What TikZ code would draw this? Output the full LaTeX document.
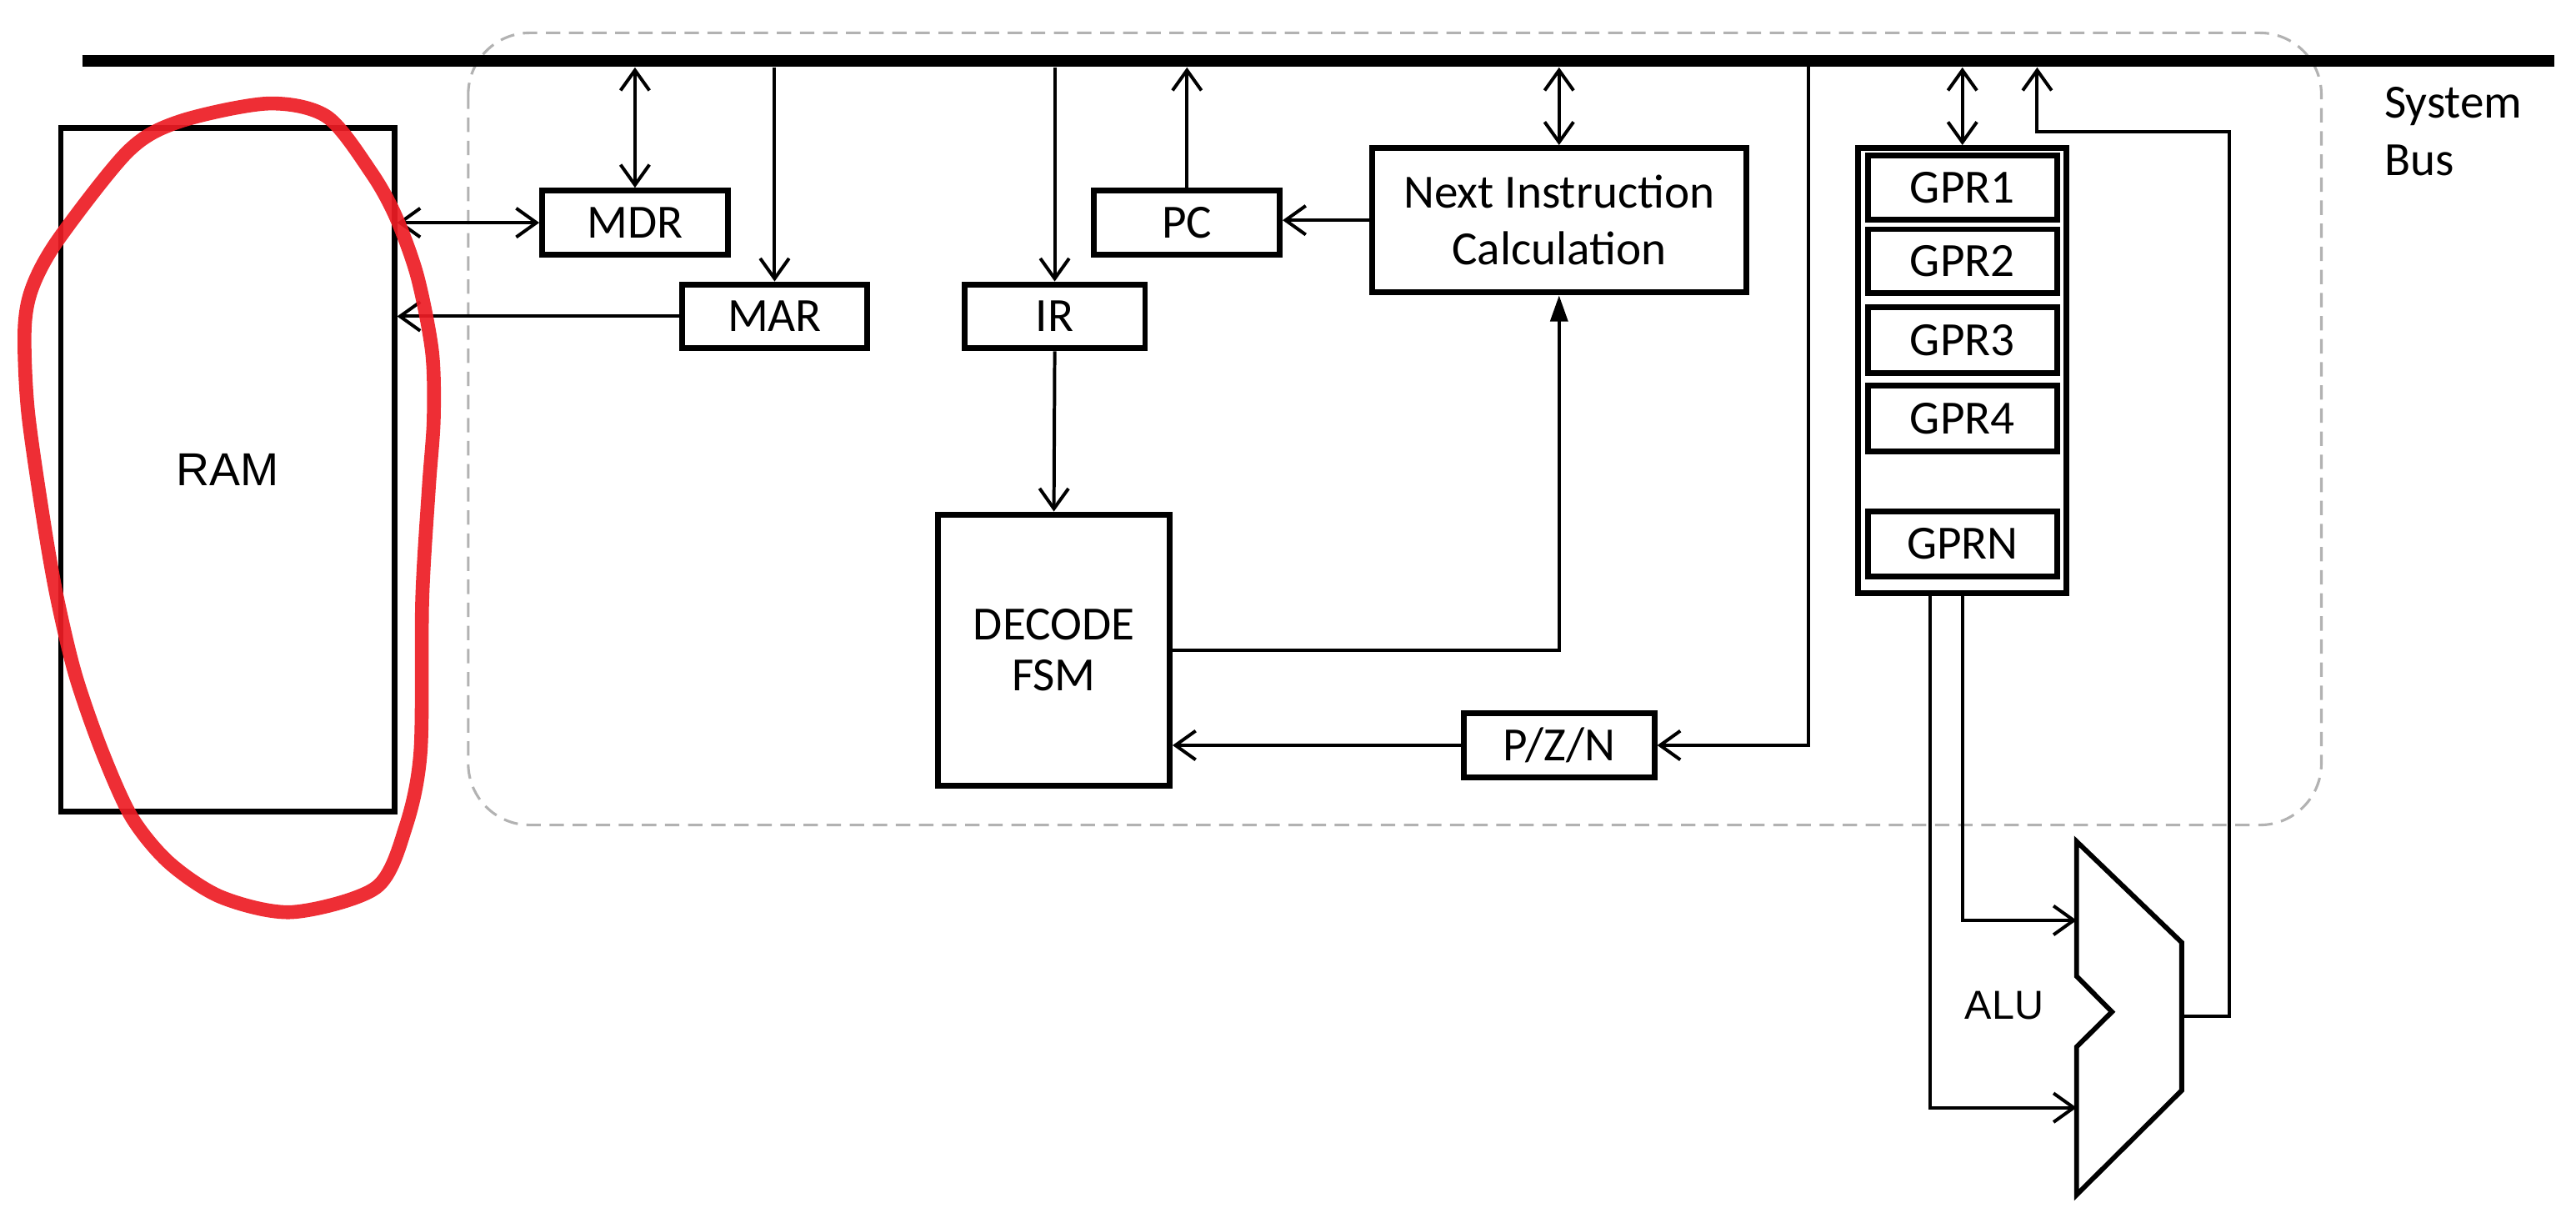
\documentclass[tikz,border=0pt]{standalone}
\usepackage{fontspec}
\setmainfont{Carlito}
\newfontfamily\ramfont{Liberation Sans}
\usetikzlibrary{arrows.meta,positioning}
\definecolor{penred}{RGB}{237,28,36}

\begin{document}
\begin{tikzpicture}[x=0.02cm, y=-0.02cm,
	reg/.style={draw, line width=2pt, inner sep=0pt, align=center, font=\fontsize{16.5}{19.5}\selectfont},
	wire/.style={line width=1.15pt},
	sig/.style={wire, -{Straight Barb[length=7pt,width=10pt]}},
	bidir/.style={wire, {Straight Barb[length=7pt,width=10pt]}-{Straight Barb[length=7pt,width=10pt]}},
	solidsig/.style={wire, -{Triangle[length=9pt,width=6pt]}},
	cpuframe/.style={draw=gray!60, line width=0.9pt, dash pattern=on 5pt off 3pt, rounded corners=0.75cm},
	marker/.style={draw=penred, line width=4.8pt, opacity=0.92, line join=round}]
	\tikzstyle{every node}+=[inner sep=0pt]
	\useasboundingbox (0,0) rectangle (1568,747);
	\draw [cpuframe] (285,20) rectangle (1413,502);
	\draw [line width=0.15cm] (50,37) -- (1555,37);
	\coordinate (bus) at (0,41);
	\node [anchor=west, align=left, font=\fontsize{16.5}{20}\selectfont] (sysbus) at (1451,80) {System\\Bus};
	\node [reg, minimum width=4.06cm, minimum height=8.32cm, font=\ramfont\fontsize{16}{19}\selectfont] (ram) at (138.5,286) {RAM};
	\node [reg, minimum width=2.26cm, minimum height=0.78cm] (mdr) at (386.5,135.5) {MDR};
	\node [reg, minimum width=2.26cm, minimum height=0.78cm] (mar) at (471.5,192.5) {MAR};
	\node [reg, minimum width=2.2cm, minimum height=0.78cm] (ir) at (642,192.5) {IR};
	\node [reg, minimum width=2.26cm, minimum height=0.78cm] (pc) at (722.5,135.5) {PC};
	\node [reg, minimum width=4.56cm, minimum height=1.76cm] (nic) at (949,134) {Next Instruction\\Calculation};
	\node [reg, minimum width=2.82cm, minimum height=3.3cm, font=\fontsize{16.5}{17.5}\selectfont] (decode) at (641.5,395.5) {DECODE\\FSM};
	\node [reg, minimum width=2.32cm, minimum height=0.78cm] (pzn) at (949,453.5) {P/Z/N};
	\node [reg, minimum width=2.54cm, minimum height=5.42cm] (gprs) at (1194.5,225.5) {};
	\node [reg, minimum width=2.3cm, minimum height=0.78cm] (gpr1) at (1194.5,114) {GPR1};
	\node [reg, minimum width=2.3cm, minimum height=0.78cm] (gpr2) at (1194.5,159) {GPR2};
	\node [reg, minimum width=2.3cm, minimum height=0.8cm] (gpr3) at (1194.5,207) {GPR3};
	\node [reg, minimum width=2.3cm, minimum height=0.8cm] (gpr4) at (1194.5,254.5) {GPR4};
	\node [reg, minimum width=2.3cm, minimum height=0.8cm] (gprn) at (1194.5,331) {GPRN};
	\draw [line width=1.7pt, line join=miter] (1264,512) -- (1328,573.5) -- (1328,663.5) -- (1264,727) -- (1264,637) -- (1285.5,615.7) -- (1264,594) -- cycle;
	\node [font=\ramfont\fontsize{14}{16}\selectfont] (alu) at (1220,612) {ALU};
	\coordinate (aluA) at (1264,560);
	\coordinate (aluB) at (1264,674);
	\coordinate (aluY) at (1328,618.5);
	\coordinate (alufb) at (1357,80);
	\coordinate (fbtap) at (1240,41);
	\coordinate (flagtap) at (1101,37);
	\draw [bidir] (ram.east |- mdr) -- (mdr.west);
	\draw [bidir] (mdr.north |- bus) -- (mdr.north);
	\draw [sig] (mar.north |- bus) -- (mar.north);
	\draw [sig] (mar.west) -- (ram.east |- mar);
	\draw [sig] (ir.north |- bus) -- (ir.north);
	\draw [sig] (ir.south) -- (decode.north);
	\draw [sig] (pc.north) -- (pc.north |- bus);
	\draw [sig] (nic.west) -- (nic.west -| pc.east);
	\draw [bidir] (nic.north |- bus) -- (nic.north);
	\draw [solidsig] (decode.east) -| (nic.south);
	\draw [sig] (pzn.west) -- (pzn.west -| decode.east);
	\draw [sig] (flagtap) |- (pzn.east);
	\draw [bidir] (gprs.north |- bus) -- (gprs.north);
	\draw [sig] (gprs.south) |- (aluA);
	\draw [sig] ([xshift=-0.39cm]gprs.south) |- (aluB);
	\draw [sig] (aluY) -| (alufb) -| (fbtap);
	\draw [marker] plot [smooth cycle] coordinates {(163,63) (199,71) (226,105) (241,132) (254,168) (263,214) (264,255) (261,297) (257,365) (256,457) (247,503) (229,540) (178,555) (135,546) (103,525) (80,497) (62,457) (46,411) (35,365) (27,320) (17,250) (15,200) (20,174) (36,145) (78,92) (109,74)};
\end{tikzpicture}
\end{document}
